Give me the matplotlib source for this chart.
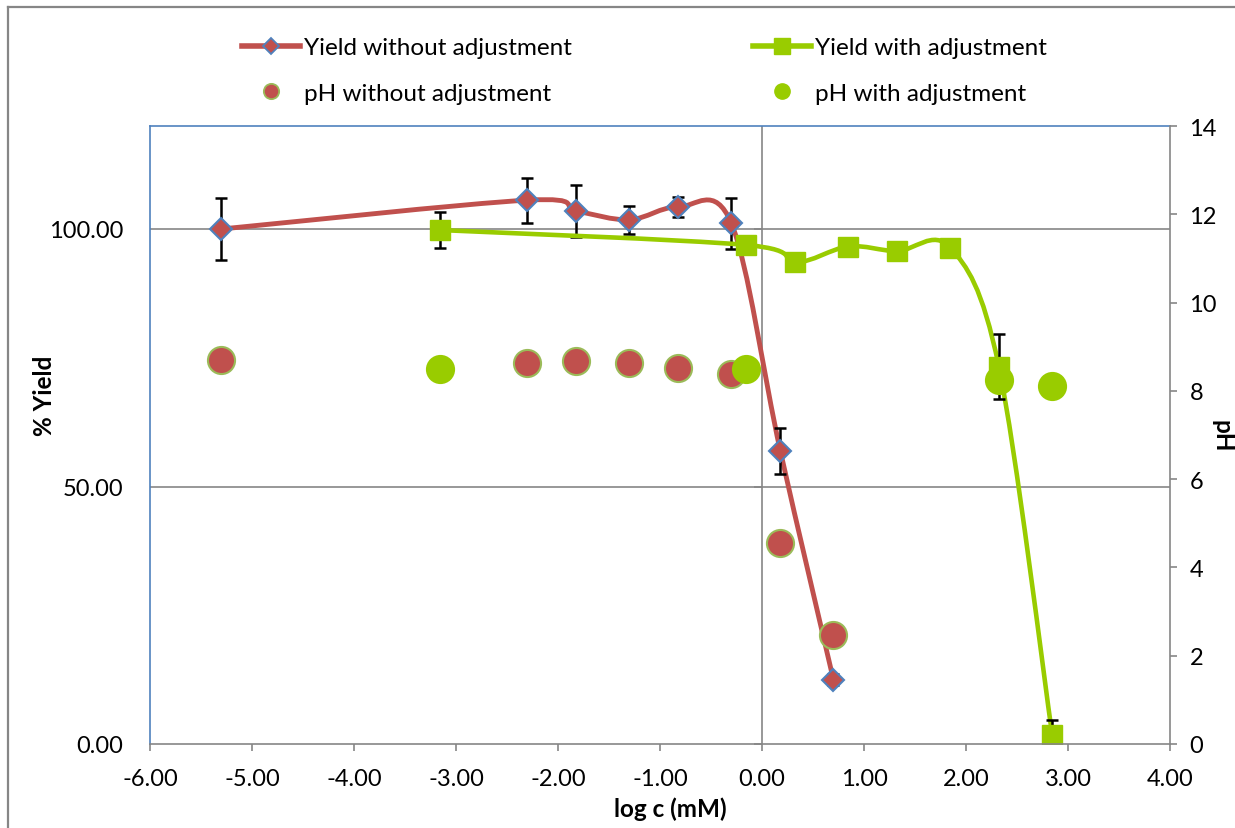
import numpy as np
import matplotlib
matplotlib.use("Agg")
import matplotlib.pyplot as plt
from matplotlib.path import Path
from matplotlib.patches import PathPatch
from matplotlib.lines import Line2D
from matplotlib.ticker import FormatStrFormatter

plt.rcParams['font.family'] = ['Lato', 'DejaVu Sans']

# log c (mM) and % yield, without pH adjustment
logc_no = [-5.30, -2.30, -1.82, -1.30, -0.82, -0.30, 0.18, 0.70]
yield_no = [100.0, 105.6, 103.5, 101.8, 104.3, 101.1, 56.9, 12.5]
err_no = [6.0, 4.4, 5.0, 2.7, 1.9, 5.0, 4.4, 1.0]
ph_no = [8.70, 8.63, 8.68, 8.63, 8.52, 8.38, 4.55, 2.47]

# with pH adjustment
logc_adj = [-3.155, -0.155, 0.322, 0.845, 1.322, 1.845, 2.322, 2.845]
yield_adj = [99.8, 96.9, 93.5, 96.6, 95.7, 96.4, 73.3, 1.8]
err_adj = [3.5, 1.0, 1.0, 1.0, 1.0, 1.0, 6.3, 2.8]
logc_ph_adj = [-3.155, -0.155, 2.322, 2.845]
ph_adj = [8.50, 8.50, 8.25, 8.10]

x_ticks = np.arange(-6, 5, 1)
y_ticks = [0, 50, 100]
ph_ticks = np.arange(0, 15, 2)

red = '#C0504D'
blue = '#4F81BD'
green = '#99CC00'
ph_edge = '#9BBB59'
gray = '#868686'


def smooth_path(xs, ys):
    # Excel style smoothed line: cubic bezier through the points
    pts = np.column_stack([xs, ys])
    n = len(pts)
    verts = [pts[0]]
    codes = [Path.MOVETO]
    for i in range(n - 1):
        p0 = pts[max(i - 1, 0)]
        p1 = pts[i]
        p2 = pts[i + 1]
        p3 = pts[min(i + 2, n - 1)]
        verts += [p1 + (p2 - p0) / 6, p2 - (p3 - p1) / 6, p2]
        codes += [Path.CURVE4] * 3
    return Path(verts, codes)


W, H = 1235, 829
fig = plt.figure(figsize=(W / 100, H / 100), dpi=100)
ax = fig.add_axes([150 / W, 1 - 745 / H, 1020 / W, 618 / H])

# outer chart border (right and bottom edges are off the picture)
fig.add_artist(Line2D([8 / W, 8 / W], [0, 1 - 8 / H], color=gray, lw=1.6))
fig.add_artist(Line2D([8 / W, 1], [1 - 8 / H, 1 - 8 / H], color=gray, lw=1.6))

ax.set_xlim(-6, 4)
ax.set_ylim(0, 120)
ax.set_xticks(x_ticks)
ax.set_yticks(y_ticks)
ax.xaxis.set_major_formatter(FormatStrFormatter('%.2f'))
ax.yaxis.set_major_formatter(FormatStrFormatter('%.2f'))
ax.tick_params(axis='x', direction='out', length=5, width=1.2, color=gray,
               labelsize=17, pad=12)
ax.tick_params(axis='y', length=0, labelsize=17, pad=19)

for y in y_ticks[1:]:
    ax.axhline(y, color=gray, lw=1.2, zorder=0.5)
ax.axvline(0, color=gray, lw=1.2, zorder=0.6)
ax.plot(np.zeros(len(y_ticks)), y_ticks, ls='none', marker=0, ms=6,
        mew=1.2, color=gray, zorder=0.6, clip_on=False)

ax.spines['left'].set_color(blue)
ax.spines['top'].set_color(blue)
ax.spines['bottom'].set_color(gray)
ax.spines['right'].set_visible(False)
for s in ['left', 'top', 'bottom']:
    ax.spines[s].set_linewidth(1.2)

# yield without adjustment
ax.add_patch(PathPatch(smooth_path(logc_no, yield_no), fill=False,
                       edgecolor=red, lw=3.5, zorder=2))
ax.errorbar(logc_no, yield_no, yerr=err_no, fmt='none', ecolor='black',
            elinewidth=1.8, capsize=4, capthick=1.8, zorder=2.1)
ax.plot(logc_no, yield_no, ls='none', marker='D', ms=11, mfc=red,
        mec=blue, mew=1.5, zorder=2.2)

# yield with adjustment
ax.add_patch(PathPatch(smooth_path(logc_adj, yield_adj), fill=False,
                       edgecolor=green, lw=3.3, zorder=2.3))
ax.errorbar(logc_adj, yield_adj, yerr=err_adj, fmt='none', ecolor='black',
            elinewidth=1.8, capsize=4, capthick=1.8, zorder=2.4)
ax.plot(logc_adj, yield_adj, ls='none', marker='s', ms=14, mfc=green,
        mec=green, mew=1, zorder=2.5)

# pH on secondary axis
ax2 = ax.twinx()
ax2.set_ylim(0, 14)
ax2.set_yticks(ph_ticks)
ax2.tick_params(axis='y', direction='out', length=5, width=1.2, color=gray,
                labelsize=17, pad=9)
for s in ['left', 'top', 'bottom']:
    ax2.spines[s].set_visible(False)
ax2.spines['right'].set_color(gray)
ax2.spines['right'].set_linewidth(1.2)
ax2.plot(logc_no, ph_no, ls='none', marker='o', ms=19.5, mfc=red,
         mec=ph_edge, mew=1.5, zorder=3)
ax2.plot(logc_ph_adj, ph_adj, ls='none', marker='o', ms=19.5, mfc=green,
         mec=green, mew=1.5, zorder=3.1)

fig.text(45 / W, 1 - 396 / H, '% Yield', rotation=90, ha='center',
         va='center', fontsize=17.5, fontweight='bold')
fig.text(670 / W, 1 - 809 / H, 'log c (mM)', ha='center', va='center',
         fontsize=17.5, fontweight='bold')
fig.text(1234 / W, 1 - 436 / H, 'pH', rotation=270, ha='right',
         va='center', fontsize=17.5, fontweight='bold')

handles = [
    Line2D([], [], color=red, lw=4, marker='D', ms=8, mfc=red, mec=blue, mew=1.3),
    Line2D([], [], ls='none', marker='o', ms=11, mfc=red, mec=ph_edge, mew=1.3),
    Line2D([], [], color=green, lw=4, marker='s', ms=12, mfc=green, mec=green),
    Line2D([], [], ls='none', marker='o', ms=11, mfc=green, mec=green),
]
labels = ['Yield without adjustment', 'pH without adjustment',
          'Yield with adjustment', 'pH with adjustment']
fig.legend(handles, labels, ncol=2, loc='center',
           bbox_to_anchor=(644 / W, 1 - 71.5 / H), frameon=False,
           fontsize=17.5, handlelength=2.4, handletextpad=0.15,
           columnspacing=7.45, labelspacing=1.0)

fig.savefig('out.png', dpi=100)
